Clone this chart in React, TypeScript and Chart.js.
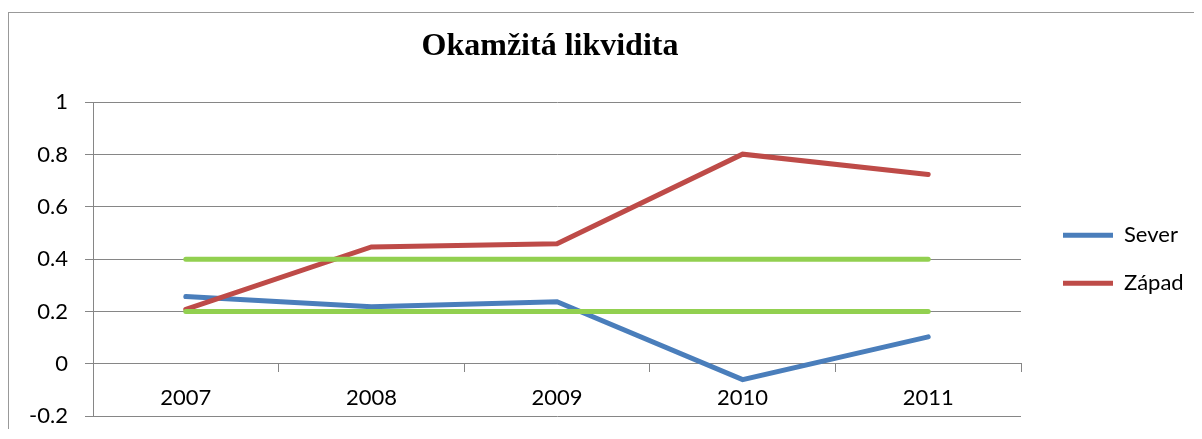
import React, { useEffect, useRef } from "react";
import { Chart, registerables } from "chart.js";

Chart.register(...registerables);

const TITLE = "Okamžitá likvidita";
const YEARS = ["2007", "2008", "2009", "2010", "2011"];
const SEVER = [0.257, 0.218, 0.237, -0.061, 0.103];
const ZAPAD = [0.208, 0.447, 0.459, 0.802, 0.724];
const LIMIT_HIGH = [0.4, 0.4, 0.4, 0.4, 0.4];
const LIMIT_LOW = [0.2, 0.2, 0.2, 0.2, 0.2];
const Y_MIN = -0.2;
const Y_MAX = 1;
const Y_STEP = 0.2;

const BLUE = "#4A7EBB";
const RED = "#BE4B48";
const GREEN = "#92D050";
const GRID = "#868686";
const FONT = "Lato";
const FONT_SIZE = 22;
const LEGEND_PAD = 26;
const LEGEND_LINE = 50;

const CANVAS_W = 1185;
const CANVAS_H = 416;
const PLOT_RIGHT = 1012;

const nudge = {
  id: "nudge",
  afterLayout(chart: any) {
    const l = chart.legend;
    if (l) {
      l.left += 16;
      l.right += 16;
    }
    const t = chart.titleBlock;
    if (t) {
      t.left -= 7;
      t.right -= 7;
    }
  },
};

export default function App() {
  const ref = useRef<HTMLCanvasElement | null>(null);

  useEffect(() => {
    if (!ref.current) return;
    const mctx = document.createElement("canvas").getContext("2d")!;
    mctx.font = `${FONT_SIZE}px ${FONT}`;
    const textW = Math.max(mctx.measureText("Sever").width, mctx.measureText("Západ").width);
    const legendW = LEGEND_PAD + LEGEND_LINE + FONT_SIZE / 2 + textW + 10;
    const padRight = Math.max(0, CANVAS_W - PLOT_RIGHT - legendW);

    const line = (label: string, data: number[], color: string, order: number) => ({
      label,
      data,
      borderColor: color,
      backgroundColor: color,
      borderWidth: 5,
      borderCapStyle: "round",
      borderJoinStyle: "miter",
      pointRadius: 0,
      pointHoverRadius: 0,
      tension: 0,
      fill: false,
      order,
    });
    const chart = new Chart(ref.current, {
      type: "line",
      data: {
        labels: YEARS,
        datasets: [
          line("Sever", SEVER, BLUE, 2),
          line("Západ", ZAPAD, RED, 1),
          line("limit-high", LIMIT_HIGH, GREEN, 0),
          line("limit-low", LIMIT_LOW, GREEN, 0),
        ] as any,
      },
      plugins: [nudge],
      options: {
        animation: false,
        responsive: false,
        maintainAspectRatio: false,
        layout: { padding: { left: 0, top: 0, right: padRight, bottom: 13 } },
        scales: {
          x: {
            type: "category",
            position: { y: 0 } as any,
            offset: true,
            grid: {
              offset: true,
              drawOnChartArea: false,
              drawTicks: true,
              tickLength: 8,
              color: GRID,
              lineWidth: 1,
            },
            border: { display: true, color: GRID, width: 1 },
            ticks: {
              color: "#000",
              padding: 13,
              font: { family: FONT, size: FONT_SIZE },
              maxRotation: 0,
            },
          },
          y: {
            min: Y_MIN,
            max: Y_MAX,
            afterFit: (s: any) => {
              s.width = 84;
              s.paddingTop = 13;
              s.paddingBottom = 13;
            },
            grid: {
              color: GRID,
              lineWidth: 1,
              drawTicks: true,
              tickLength: 8,
            },
            border: { display: true, color: GRID, width: 1 },
            ticks: {
              stepSize: Y_STEP,
              color: "#000",
              padding: 17,
              font: { family: FONT, size: FONT_SIZE },
              callback: (v: any) => String(Number(Number(v).toFixed(1))),
            },
          },
        },
        plugins: {
          title: {
            display: true,
            text: TITLE,
            fullSize: false,
            color: "#000",
            font: { family: "Liberation Serif", size: 32, weight: "bold" },
            padding: { top: 15, bottom: 36 },
          },
          legend: {
            display: true,
            position: "right",
            fullSize: false,
            labels: {
              usePointStyle: true,
              pointStyle: "line",
              pointStyleWidth: LEGEND_LINE,
              padding: LEGEND_PAD,
              color: "#000",
              font: { family: FONT, size: FONT_SIZE },
              filter: (item: any) => item.datasetIndex < 2,
              sort: (a: any, b: any) => a.datasetIndex - b.datasetIndex,
            },
          },
          tooltip: { enabled: false },
        },
      } as any,
    });
    return () => chart.destroy();
  }, []);

  return (
    <div
      style={{
        marginTop: 4,
        borderTop: "1px solid #999",
        borderLeft: "1px solid #999",
        width: CANVAS_W,
        height: CANVAS_H,
      }}
    >
      <canvas ref={ref} width={CANVAS_W} height={CANVAS_H} style={{ display: "block" }} />
    </div>
  );
}
